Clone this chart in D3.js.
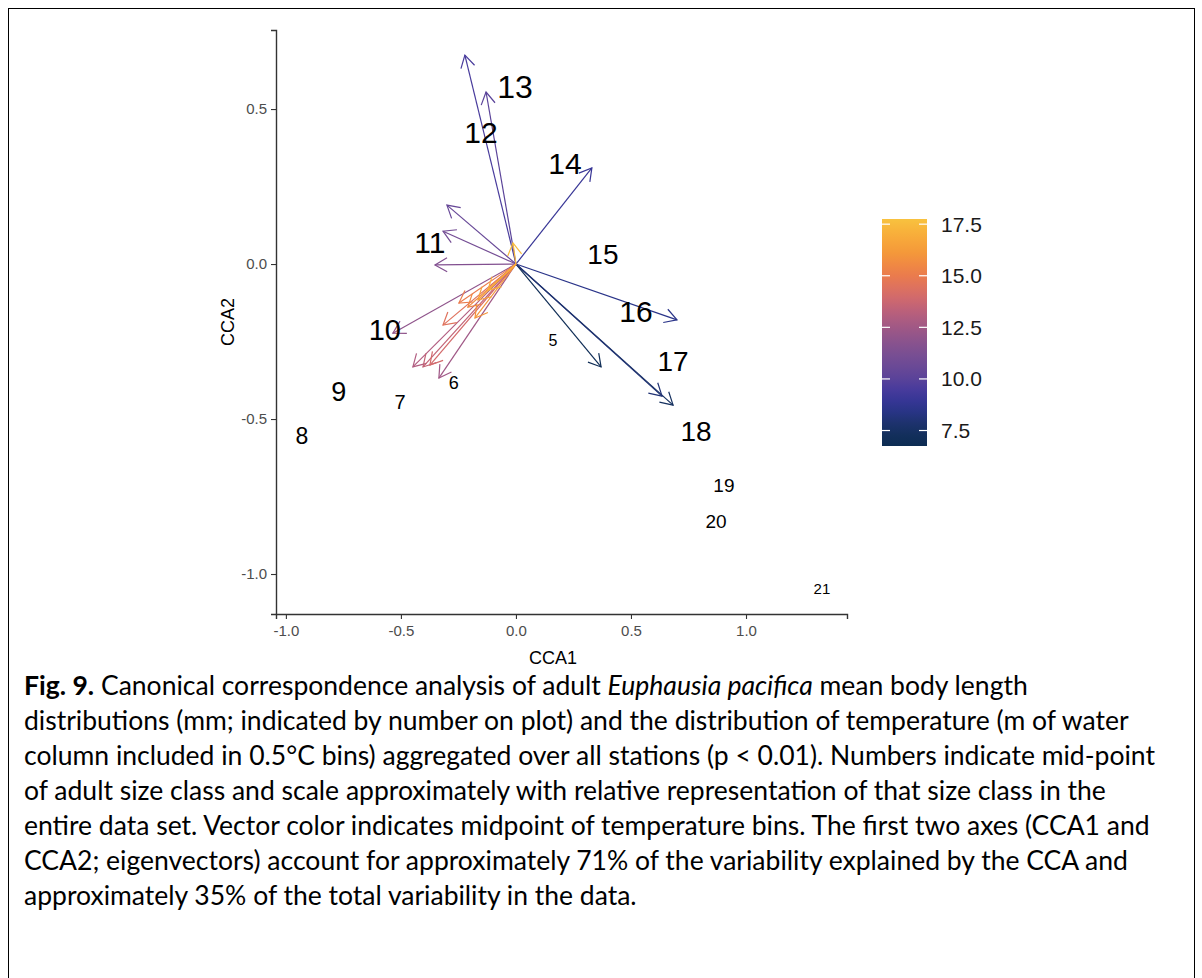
<!DOCTYPE html>
<html lang="en">
<head>
    <meta charset="UTF-8">
    <title>CCA biplot</title>
    <script src="https://cdn.jsdelivr.net/npm/d3@7"></script>
    <style>
        body { margin: 0; background: #fff; }
        svg { display: block; }
    </style>
</head>
<body>
<svg id="chart" width="1202" height="978"></svg>

<script>
    // size classes (mm) - label, CCA1, CCA2, relative representation (text size)
    const sizeClass = ['5', '6', '7', '8', '9', '10', '11', '12', '13', '14', '15', '16', '17', '18', '19', '20', '21'];
    const sizeCca1 = [0.161, -0.270, -0.504, -0.930, -0.770, -0.570, -0.374, -0.152, -0.004, 0.213, 0.378, 0.522, 0.683, 0.783, 0.904, 0.870, 1.330];
    const sizeCca2 = [-0.248, -0.384, -0.445, -0.555, -0.413, -0.213, 0.068, 0.423, 0.571, 0.323, 0.032, -0.152, -0.316, -0.539, -0.713, -0.829, -1.048];
    const sizeRep = [16, 18, 20, 23, 27, 29, 30, 30, 32, 30, 28, 30, 28, 28, 19, 19, 15];

    // temperature bin vectors (midpoint degC) - tip CCA1, CCA2
    const tempBin = [7.0, 7.5, 8.0, 8.5, 9.0, 9.5, 10.0, 10.5, 11.0, 11.5, 12.0, 12.5, 13.0, 13.5, 14.0, 14.5, 15.0, 15.5, 16.0, 16.5, 17.0, 17.5];
    const tempCca1 = [0.370, 0.683, 0.635, 0.700, 0.330, -0.222, -0.130, -0.300, -0.317, -0.352, -0.535, -0.335, -0.448, -0.404, -0.374, -0.317, -0.248, -0.209, -0.178, -0.165, -0.122, -0.013];
    const tempCca2 = [-0.332, -0.455, -0.426, -0.180, 0.310, 0.674, 0.555, 0.190, 0.106, -0.003, -0.223, -0.368, -0.332, -0.332, -0.326, -0.197, -0.126, -0.139, -0.174, -0.116, -0.084, 0.068];

    const xTicks = [-1.0, -0.5, 0.0, 0.5, 1.0];
    const yTicks = [-1.0, -0.5, 0.0, 0.5];
    const legendTicks = [7.5, 10.0, 12.5, 15.0, 17.5];

    const captionLines = [
        [['Fig. 9.', 'b'], [' Canonical correspondence analysis of adult ', 'n'], ['Euphausia pacifica', 'i'], [' mean body length', 'n']],
        [['distributions (mm; indicated by number on plot) and the distribution of temperature (m of water', 'n']],
        [['column included in 0.5\u00B0C bins) aggregated over all stations (p < 0.01). Numbers indicate mid-point', 'n']],
        [['of adult size class and scale approximately with relative representation of that size class in the', 'n']],
        [['entire data set. Vector color indicates midpoint of temperature bins. The first two axes (CCA1 and', 'n']],
        [['CCA2; eigenvectors) account for approximately 71% of the variability explained by the CCA and', 'n']],
        [['approximately 35% of the total variability in the data.', 'n']]
    ];

    const svg = d3.select('#chart');
    const PLOT_FONT = '"Liberation Sans", Arial, sans-serif';

    // frame round the figure
    svg.append('rect')
        .attr('x', 8.5).attr('y', 8.5)
        .attr('width', 1186).attr('height', 1000)
        .attr('fill', 'none')
        .attr('stroke', '#000')
        .attr('stroke-width', 1);

    const x = d3.scaleLinear().domain([-1.043, 1.439]).range([276, 847]);
    const y = d3.scaleLinear().domain([0.755, -1.129]).range([30, 614]);

    const colour = d3.scaleLinear()
        .domain([6.75, 7.5, 8.5, 9.25, 10, 11, 12, 13, 14, 15, 16, 17, 17.75])
        .range(['#0c2c52', '#15305f', '#2a3489', '#3e379d', '#5a4399', '#744d94', '#8f548b',
                '#b15d80', '#d36a6b', '#ea7b4d', '#f4953a', '#f8ae3a', '#f8c23f'])
        .interpolate(d3.interpolateLab);

    //-----------------------------AXES-----------------------------//
    const fmt = d => d.toFixed(1);
    const xAxis = svg.append('g')
        .attr('transform', `translate(0, ${y.range()[1]})`)
        .call(d3.axisBottom(x).tickValues(xTicks).tickFormat(fmt).tickSizeOuter(0).tickSize(5).tickPadding(6));
    const yAxis = svg.append('g')
        .attr('transform', `translate(${x.range()[0]}, 0)`)
        .call(d3.axisLeft(y).tickValues(yTicks).tickFormat(fmt).tickSizeOuter(0).tickSize(5).tickPadding(4));

    [xAxis, yAxis].forEach(g => {
        g.select('.domain').attr('stroke', '#333').attr('stroke-width', 1.4);
        g.selectAll('.tick line').attr('stroke', '#333').attr('stroke-width', 1.1);
        g.selectAll('.tick text')
            .attr('fill', '#4d4d4d')
            .style('font-family', PLOT_FONT)
            .style('font-size', '15px');
    });

    svg.append('text')
        .attr('x', 553)
        .attr('y', 664)
        .attr('text-anchor', 'middle')
        .style('font-family', PLOT_FONT)
        .style('font-size', '18px')
        .text('CCA1');

    svg.append('text')
        .attr('transform', `translate(234, ${(y.range()[0] + y.range()[1]) / 2}) rotate(-90)`)
        .attr('text-anchor', 'middle')
        .style('font-family', PLOT_FONT)
        .style('font-size', '18px')
        .text('CCA2');

    //----------------------------VECTORS---------------------------//
    const vectors = tempBin.map((t, i) => ({t: t, x: tempCca1[i], y: tempCca2[i]}));
    const HEAD = 14;
    const HEAD_ANGLE = Math.PI / 6;

    const vecG = svg.append('g').attr('fill', 'none').attr('stroke-width', 1.2);
    vectors.forEach(v => {
        const x0 = x(0), y0 = y(0), x1 = x(v.x), y1 = y(v.y);
        const a = Math.atan2(y1 - y0, x1 - x0);
        const head = d3.path();
        head.moveTo(x1 - HEAD * Math.cos(a - HEAD_ANGLE), y1 - HEAD * Math.sin(a - HEAD_ANGLE));
        head.lineTo(x1, y1);
        head.lineTo(x1 - HEAD * Math.cos(a + HEAD_ANGLE), y1 - HEAD * Math.sin(a + HEAD_ANGLE));
        vecG.append('line')
            .attr('x1', x0).attr('y1', y0)
            .attr('x2', x1).attr('y2', y1)
            .attr('stroke', colour(v.t));
        vecG.append('path')
            .attr('d', head.toString())
            .attr('stroke', colour(v.t));
    });

    //----------------------------LABELS----------------------------//
    svg.append('g').selectAll('text')
        .data(sizeClass)
        .enter()
        .append('text')
        .attr('x', (d, i) => x(sizeCca1[i]))
        .attr('y', (d, i) => y(sizeCca2[i]))
        .attr('text-anchor', 'middle')
        .attr('dominant-baseline', 'central')
        .style('font-family', PLOT_FONT)
        .style('font-size', (d, i) => sizeRep[i] + 'px')
        .attr('fill', '#000')
        .text(d => d);

    //----------------------------LEGEND----------------------------//
    const legY = d3.scaleLinear().domain([6.75, 17.75]).range([446, 219]);
    const legX = 882, legW = 45;
    const grad = svg.append('defs').append('linearGradient')
        .attr('id', 'tempGrad')
        .attr('x1', 0).attr('y1', 1).attr('x2', 0).attr('y2', 0);
    d3.range(0, 21).forEach(k => {
        const t = 6.75 + k * (11 / 20);
        grad.append('stop').attr('offset', k / 20).attr('stop-color', colour(t));
    });
    svg.append('rect')
        .attr('x', legX).attr('y', legY.range()[1])
        .attr('width', legW).attr('height', legY.range()[0] - legY.range()[1])
        .attr('fill', 'url(#tempGrad)');
    legendTicks.forEach(t => {
        [[legX, legX + 8], [legX + legW - 8, legX + legW]].forEach(s => {
            svg.append('line')
                .attr('x1', s[0]).attr('x2', s[1])
                .attr('y1', legY(t)).attr('y2', legY(t))
                .attr('stroke', '#fff').attr('stroke-width', 1.2);
        });
        svg.append('text')
            .attr('x', 941).attr('y', legY(t))
            .attr('dominant-baseline', 'central')
            .style('font-family', PLOT_FONT)
            .style('font-size', '21px')
            .attr('fill', '#1a1a1a')
            .text(t.toFixed(1));
    });

    //----------------------------CAPTION---------------------------//
    const cap = svg.append('g')
        .style('font-family', 'Lato, "Open Sans", sans-serif')
        .style('font-size', '22px')
        .attr('fill', '#000');
    const capText = captionLines.map((line, i) => {
        const t = cap.append('text').attr('x', 24).attr('y', 695 + i * 35);
        line.forEach(part => {
            t.append('tspan')
                .style('font-weight', part[1] === 'b' ? 'bold' : null)
                .style('font-style', part[1] === 'i' ? 'italic' : null)
                .text(part[0]);
        });
        return t;
    });
    // fit the longest caption line to the width it has in the figure
    const widest = d3.max(capText, t => t.node().getComputedTextLength());
    cap.style('font-size', (22 * 1131 / widest).toFixed(2) + 'px');
</script>
</body>
</html>
